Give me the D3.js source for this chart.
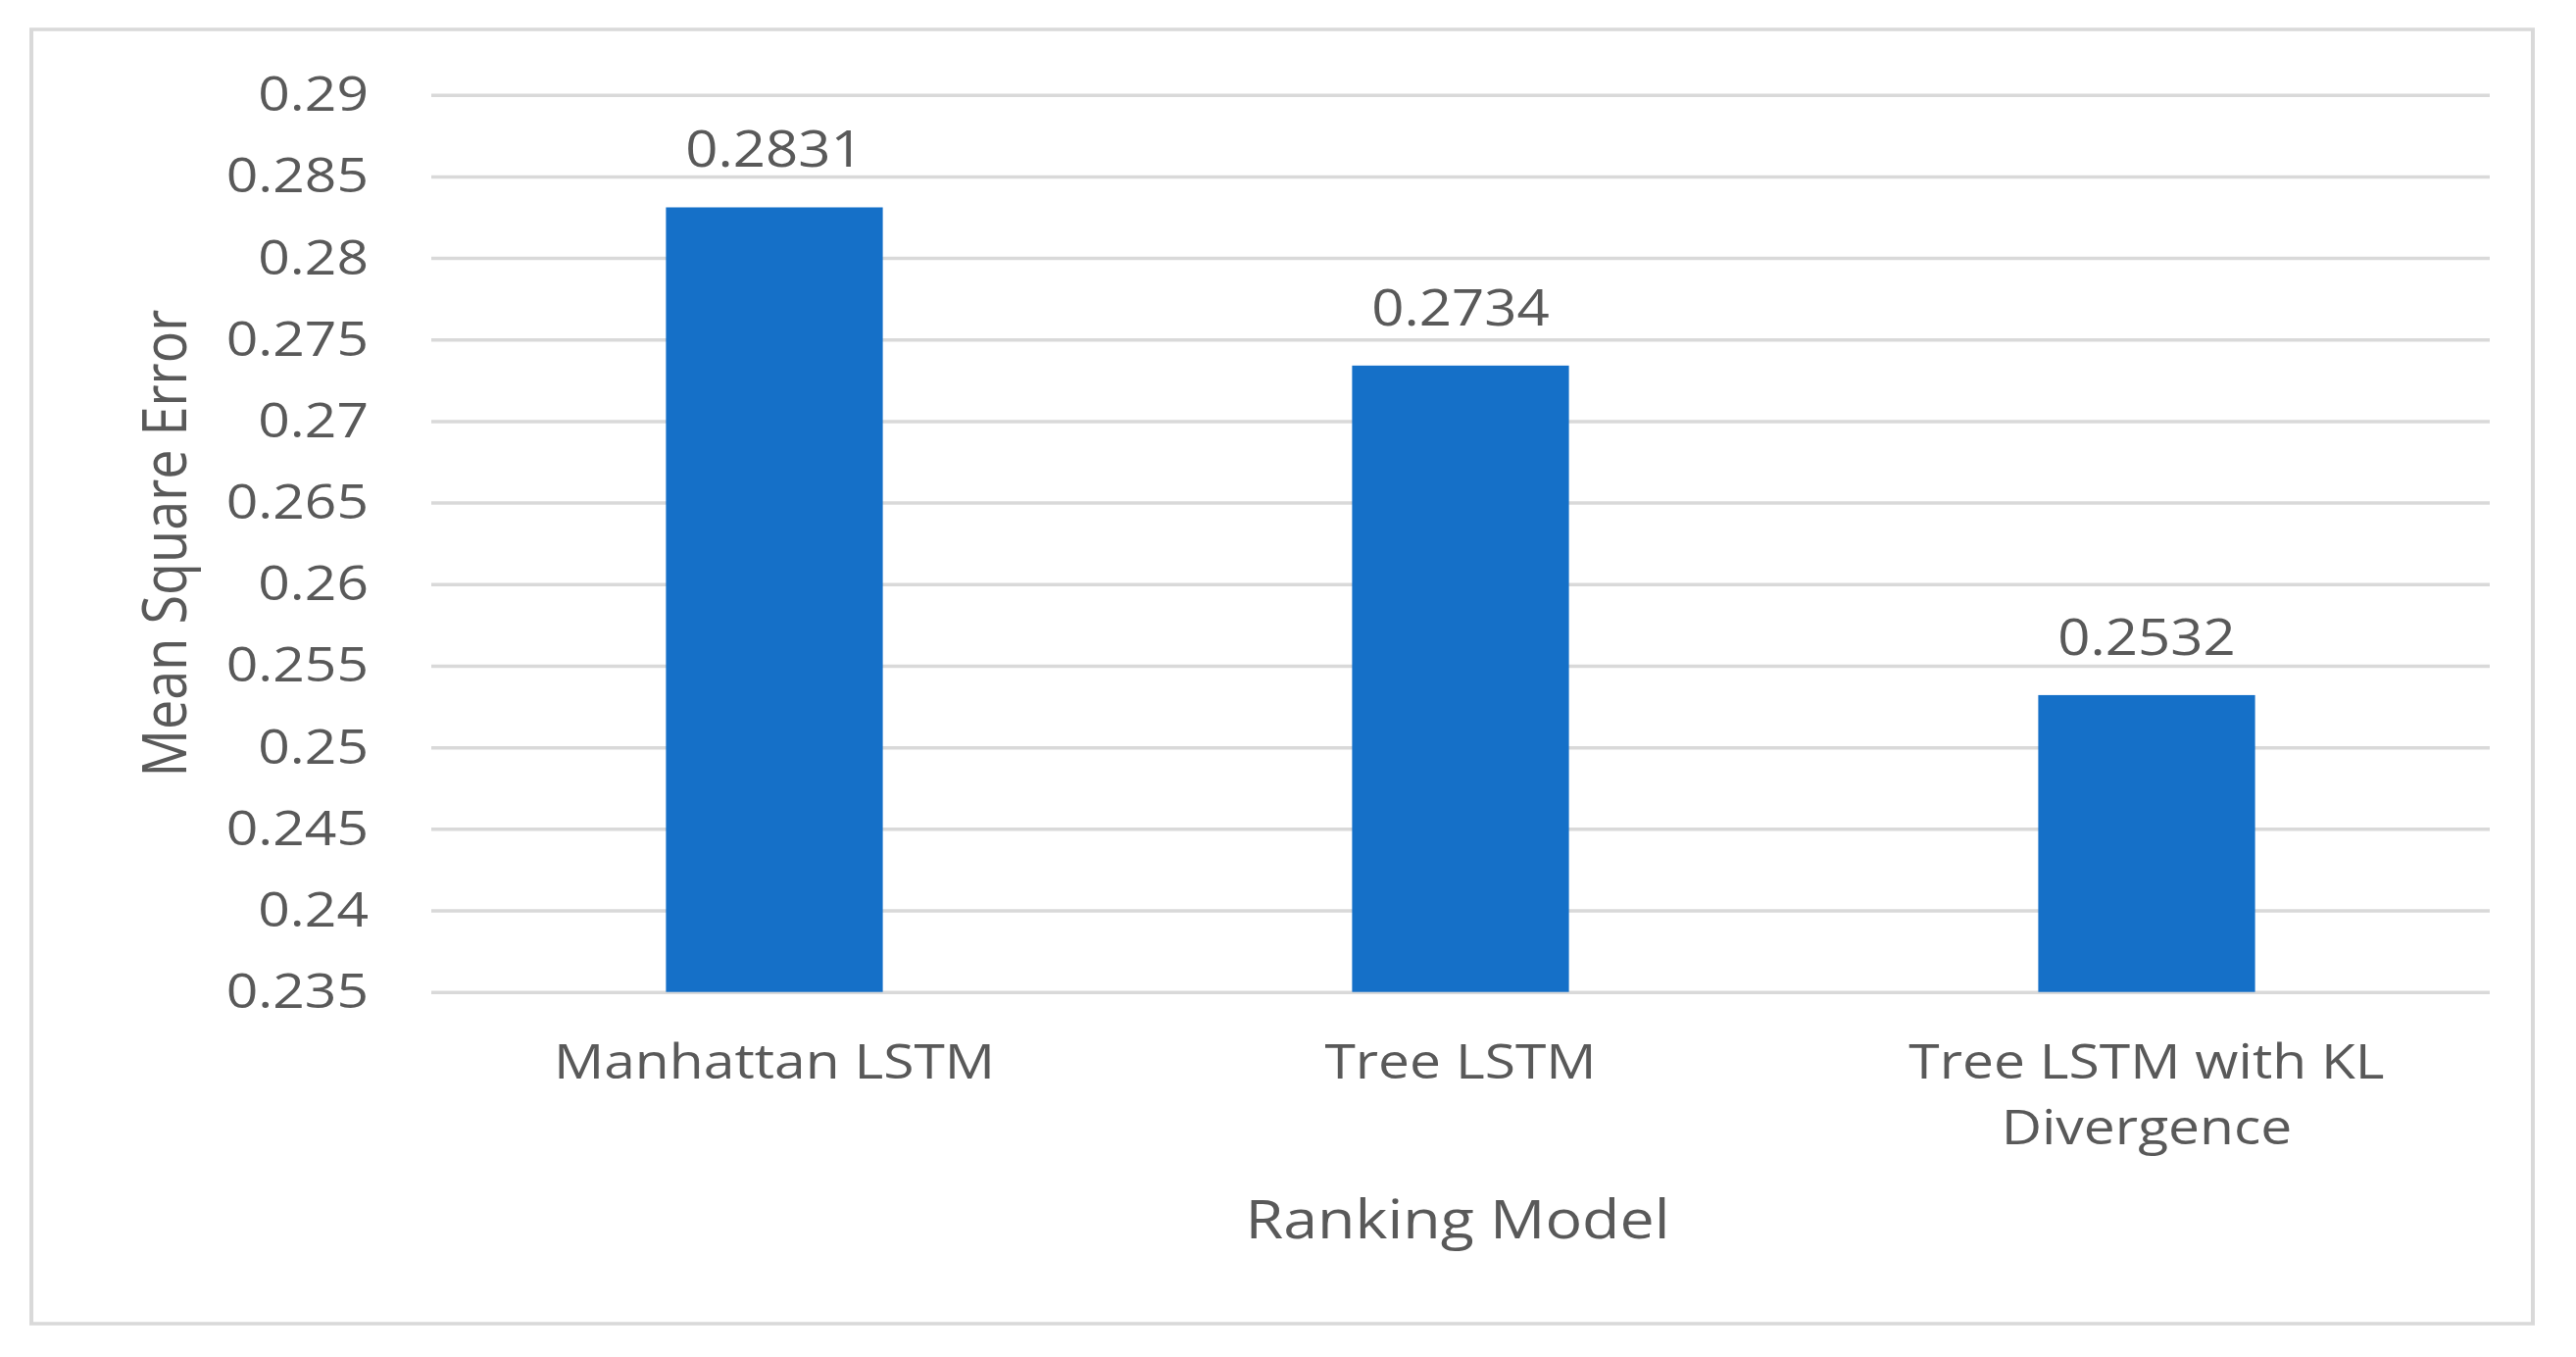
<!DOCTYPE html>
<html>
<head>
<meta charset="utf-8">
<script src="https://cdn.jsdelivr.net/npm/d3@7"></script>
<style>
  html, body { margin: 0; padding: 0; background: #ffffff; }
  svg { display: block; }
  text { font-family: "Open Sans", "Noto Sans", sans-serif; fill: #595959; }
</style>
</head>
<body>
<svg id="chart"></svg>
<script>
// ---- data ----
const categories = ["Manhattan LSTM", "Tree LSTM", "Tree LSTM with KL Divergence"];
const categoryLines = [["Manhattan LSTM"], ["Tree LSTM"], ["Tree LSTM with KL", "Divergence"]];
const values = [0.2831, 0.2734, 0.2532];
const valueLabels = ["0.2831", "0.2734", "0.2532"];
const yTickValues = [0.235, 0.24, 0.245, 0.25, 0.255, 0.26, 0.265, 0.27, 0.275, 0.28, 0.285, 0.29];
const yTickLabels = ["0.235", "0.24", "0.245", "0.25", "0.255", "0.26", "0.265", "0.27", "0.275", "0.28", "0.285", "0.29"];
const yTitle = "Mean Square Error";
const xTitle = "Ranking Model";

// ---- layout ----
const W = 2628, H = 1384;
const SX = 1.14;               // horizontal stretch of the whole picture
const X = v => v / SX;         // final px -> inner px
const plotLeft = X(440), plotRight = X(2540);
const plotTop = 96.7, plotBottom = 1011.7;
const gridColor = "#d9d9d9";
const barColor = "#1570c8";

const svg = d3.select("#chart").attr("width", W).attr("height", H);
const root = svg.append("g").attr("transform", `scale(${SX},1)`);

// frame
root.append("rect")
  .attr("x", X(32)).attr("y", 30)
  .attr("width", X(2584) - X(32)).attr("height", 1320)
  .attr("fill", "#ffffff")
  .attr("stroke", gridColor).attr("stroke-width", 3.5);

const x = d3.scaleBand().domain(categories).range([plotLeft, plotRight]).padding(0);
const y = d3.scaleLinear().domain([0.235, 0.29]).range([plotBottom, plotTop]);
const barW = x.bandwidth() * 0.316;

// y axis with gridlines
const yAxis = d3.axisLeft(y)
  .tickValues(yTickValues)
  .tickFormat((d, i) => yTickLabels[i])
  .tickSize(-(plotRight - plotLeft))
  .tickPadding(X(440 - 376));
const gy = root.append("g").attr("transform", `translate(${plotLeft},0)`).call(yAxis);
gy.select(".domain").remove();
gy.selectAll(".tick line").attr("stroke", gridColor).attr("stroke-width", 3.5);
gy.selectAll(".tick text")
  .style("font-family", '"Open Sans", "Noto Sans", sans-serif')
  .attr("font-size", 50).attr("fill", "#595959");

// bars
root.append("g").selectAll("rect.bar")
  .data(values)
  .join("rect")
  .attr("class", "bar")
  .attr("x", (d, i) => x(categories[i]) + x.bandwidth() / 2 - barW / 2)
  .attr("y", d => y(d))
  .attr("width", barW)
  .attr("height", d => y(0.235) - y(d))
  .attr("fill", barColor);

// value labels
root.append("g").selectAll("text.val")
  .data(values)
  .join("text")
  .attr("class", "val")
  .attr("x", (d, i) => x(categories[i]) + x.bandwidth() / 2)
  .attr("y", d => y(d) - 41)
  .attr("text-anchor", "middle")
  .attr("font-size", 51)
  .text((d, i) => valueLabels[i]);

// category labels
const cat = root.append("g").selectAll("text.cat")
  .data(categoryLines)
  .join("text")
  .attr("class", "cat")
  .attr("text-anchor", "middle")
  .attr("font-size", 50);
cat.each(function(lines, i) {
  const t = d3.select(this);
  lines.forEach((ln, j) => {
    t.append("tspan")
      .attr("x", x(categories[i]) + x.bandwidth() / 2)
      .attr("y", 1100 + j * 67)
      .text(ln);
  });
});

// x title
root.append("text")
  .attr("x", X(1487))
  .attr("y", 1263)
  .attr("text-anchor", "middle")
  .attr("font-size", 55)
  .text(xTitle);

// y title
root.append("text")
  .attr("transform", `translate(${X(190)},${(plotTop + plotBottom) / 2}) rotate(-90)`)
  .attr("text-anchor", "middle")
  .attr("font-size", 54)
  .text(yTitle);
</script>
</body>
</html>
